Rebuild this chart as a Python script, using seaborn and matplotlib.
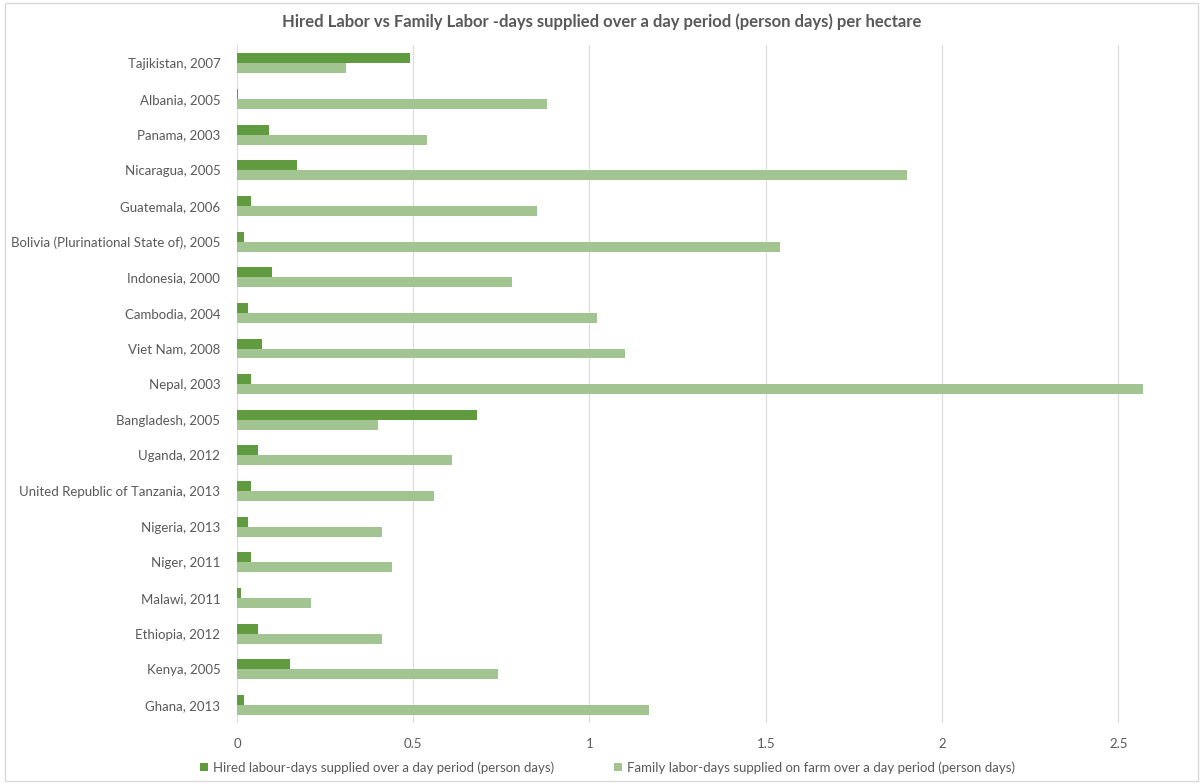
import pandas as pd
import seaborn as sns
import matplotlib.pyplot as plt
from matplotlib.patches import Rectangle, Patch

countries = [
    "Tajikistan, 2007", "Albania, 2005", "Panama, 2003", "Nicaragua, 2005",
    "Guatemala, 2006", "Bolivia (Plurinational State of), 2005", "Indonesia, 2000",
    "Cambodia, 2004", "Viet Nam, 2008", "Nepal, 2003", "Bangladesh, 2005",
    "Uganda, 2012", "United Republic of Tanzania, 2013", "Nigeria, 2013",
    "Niger, 2011", "Malawi, 2011", "Ethiopia, 2012", "Kenya, 2005", "Ghana, 2013",
]
hired = [0.49, 0.004, 0.09, 0.17, 0.04, 0.02, 0.10, 0.03, 0.07, 0.04,
         0.68, 0.06, 0.04, 0.03, 0.04, 0.01, 0.06, 0.15, 0.02]
family = [0.31, 0.88, 0.54, 1.90, 0.85, 1.54, 0.78, 1.02, 1.10, 2.57,
          0.40, 0.61, 0.56, 0.41, 0.44, 0.21, 0.41, 0.74, 1.17]

series_names = [
    "Hired labour-days supplied over a day period (person days)",
    "Family labor-days supplied on farm over a day period (person days)",
]
colors = ["#619B3F", "#A2C490"]
x_ticks = [0, 0.5, 1, 1.5, 2, 2.5]
x_labels = ["0", "0.5", "1", "1.5", "2", "2.5"]

df = pd.DataFrame({
    "country": countries * 2,
    "value": hired + family,
    "series": [series_names[0]] * len(countries) + [series_names[1]] * len(countries),
})

sns.set_style("white")
plt.rcParams["font.family"] = ["Lato", "DejaVu Sans"]

fig = plt.figure(figsize=(12.03, 7.84), dpi=100)
ax = fig.add_axes([0.197, 0.078, 0.797, 0.864])

sns.barplot(data=df, y="country", x="value", hue="series", orient="h",
            palette=colors, width=0.56, saturation=1, linewidth=0,
            ax=ax, legend=False)

ax.set_xlim(0, 2.72)
ax.set_xticks(x_ticks)
ax.set_xticklabels(x_labels)
ax.set_xlabel("")
ax.set_ylabel("")
ax.grid(axis="x", color="#DDDDDD", linewidth=0.9)
ax.set_axisbelow(True)
for s in ax.spines.values():
    s.set_visible(False)
ax.tick_params(axis="both", length=0, colors="#595959", labelsize=9.5)
ax.tick_params(axis="x", pad=11)
ax.tick_params(axis="y", pad=12)

fig.text(0.5, 0.972, "Hired Labor vs Family Labor -days supplied over a day period (person days) per hectare",
         ha="center", va="center", fontsize=12, fontweight="bold", color="#595959")

handles = [Patch(facecolor=c, edgecolor="none") for c in colors]
fig.legend(handles, series_names, loc="center", bbox_to_anchor=(0.505, 0.021), ncol=2,
           frameon=False, fontsize=9.5, handlelength=0.6, handleheight=0.6,
           handletextpad=0.4, columnspacing=4.5, labelcolor="#595959")

fig.patches.append(Rectangle((0.004, 0.004), 0.992, 0.992, transform=fig.transFigure,
                             fill=False, edgecolor="#D9D9D9", linewidth=1))

plt.savefig("out.png", dpi=100)
